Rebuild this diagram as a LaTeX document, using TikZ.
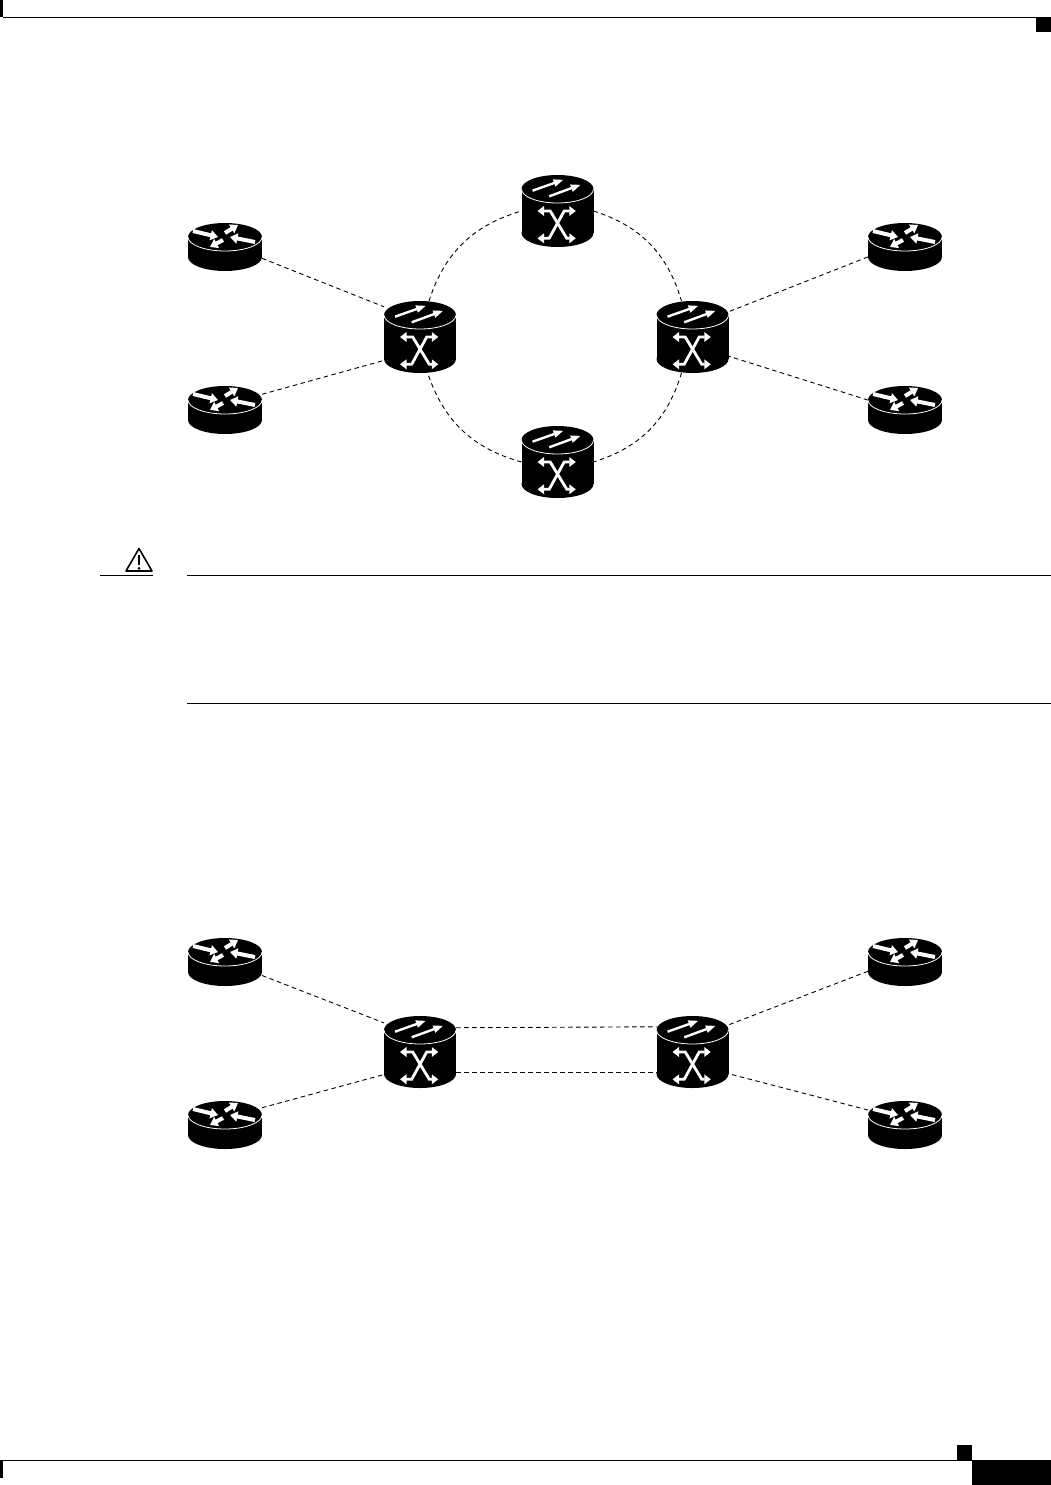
\documentclass[tikz,border=0pt]{standalone}
\usepackage{xcolor}
\usepackage{tikz}
\usetikzlibrary{arrows.meta,positioning}

\tikzset{
  routerbox/.style={minimum width=74pt,minimum height=48pt,inner sep=0pt,outer sep=0pt},
  switchbox/.style={minimum width=72pt,minimum height=72pt,inner sep=0pt,outer sep=0pt},
  link/.style={black,line width=0.9pt,dash pattern=on 4.5pt off 3.5pt},
  rule/.style={black,line width=1.2pt},
  fatarrow/.style={white,line width=4pt,-{Triangle[length=7.5pt,width=10pt]}},
  thinarrow/.style={white,line width=2.4pt,-{Triangle[length=10pt,width=7pt]}},
  crossarrow/.style={white,line width=2.8pt,{Triangle[length=6.5pt,width=9.5pt]}-{Triangle[length=6.5pt,width=9.5pt]}}
}

\newcommand{\routericon}[1]{%
  \begin{scope}[shift={(#1)}]
    \fill (0,-10) ellipse [x radius=37,y radius=14];
    \fill (0,10) ellipse [x radius=37,y radius=14];
    \fill (-37,-10) rectangle (37,10);
    \draw[white,line width=0.8pt] (-37,-10) arc [start angle=180,end angle=0,x radius=37,y radius=14];
    \draw[fatarrow] (-32,-16) -- (-7,-10);
    \draw[fatarrow] (0,-14) -- (13,-22);
    \draw[fatarrow] (30,-5) -- (5,-10);
    \draw[fatarrow] (-2,-7) -- (-15,0);
  \end{scope}}
\newcommand{\switchicon}[1]{%
  \begin{scope}[shift={(#1)}]
    \fill (0,-22) ellipse [x radius=36,y radius=14];
    \fill (0,22) ellipse [x radius=36,y radius=14];
    \fill (-36,-22) rectangle (36,22);
    \draw[white,line width=0.8pt] (-36,-22) arc [start angle=180,end angle=0,x radius=36,y radius=14];
    \draw[thinarrow] (-25,-20.3) -- (6,-31.3);
    \draw[thinarrow] (-8.3,-14.7) -- (23.3,-26.3);
    \draw[crossarrow] (-20,0) -- (-7.3,0) -- (9.3,27.3) -- (18.3,27.3);
    \draw[crossarrow] (18.3,0) -- (6.7,0) -- (-8.3,27.3) -- (-20,27.3);
  \end{scope}}

\begin{document}
\begin{tikzpicture}[x=1pt,y=-1pt]
\useasboundingbox (0,0) rectangle (1051,1485);

% page marks
\fill (0,0) rectangle (3,17);
\draw[rule] (3,17.3) -- (1036,17.3);
\fill (1036,17) rectangle (1051,32);
\fill (0,1460) rectangle (3,1478);
\draw[rule] (3,1460.3) -- (972,1460.3);
\fill (957,1445) rectangle (972,1460);
\fill (972,1460) rectangle (1051,1485);

% ring
\node[routerbox] (rtula) at (225,247) {};
\node[routerbox] (rtlla) at (225,410) {};
\node[routerbox] (rtura) at (905,247) {};
\node[routerbox] (rtlra) at (905,410) {};
\node[switchbox] (swla) at (420,337) {};
\node[switchbox] (swra) at (692.5,337) {};
\node[switchbox] (swta) at (557.5,211) {};
\node[switchbox] (swba) at (557.5,462) {};
\foreach \n in {rtula,rtlla,rtura,rtlra} {\routericon{\n}}
\foreach \n in {swla,swra,swta,swba} {\switchicon{\n}}
\draw[link] (rtula.-17)--(swla.140); \draw[link] (rtlla.23)--(swla.213);
\draw[link] (rtura.195)--(swra.35); \draw[link] (rtlra.165)--(swra.-28);
\draw[link] (swla.76) to[bend left=28] (swta.west);
\draw[link] (swta.east) to[bend left=28] (swra.107);
\draw[link] (swra.-107) to[bend left=28] (swba.east);
\draw[link] (swba.west) to[bend left=28] (swla.-78);

% caution
\draw[black,line width=1.6pt,line join=round] (139,548.5) -- (152,571) -- (126,571) -- cycle;
\draw[black,line width=2.6pt] (139,555) -- (139,565);
\fill (139,568.4) circle [radius=1.5];
\draw[rule] (100,575.3) -- (153,575.3);
\draw[rule] (187,575.3) -- (1051,575.3);
\draw[rule] (187,703.3) -- (1051,703.3);

% pair
\node[routerbox] (rtulb) at (225,962) {};
\node[routerbox] (rtllb) at (225,1125) {};
\node[routerbox] (rturb) at (905,962) {};
\node[routerbox] (rtlrb) at (905,1125) {};
\node[switchbox] (swlb) at (420,1052) {};
\node[switchbox] (swrb) at (692.5,1052) {};
\foreach \n in {rtulb,rtllb,rturb,rtlrb} {\routericon{\n}}
\foreach \n in {swlb,swrb} {\switchicon{\n}}
\draw[link] (rtulb.-20)--(swlb.141); \draw[link] (rtllb.25)--(swlb.212.5);
\draw[link] (rturb.194)--(swrb.37.6); \draw[link] (rtlrb.158)--(swrb.-31);
\draw[link] (swlb.34.8)--(swrb.145.2); \draw[link] (swlb.-29)--(swrb.209);
\end{tikzpicture}
\end{document}
